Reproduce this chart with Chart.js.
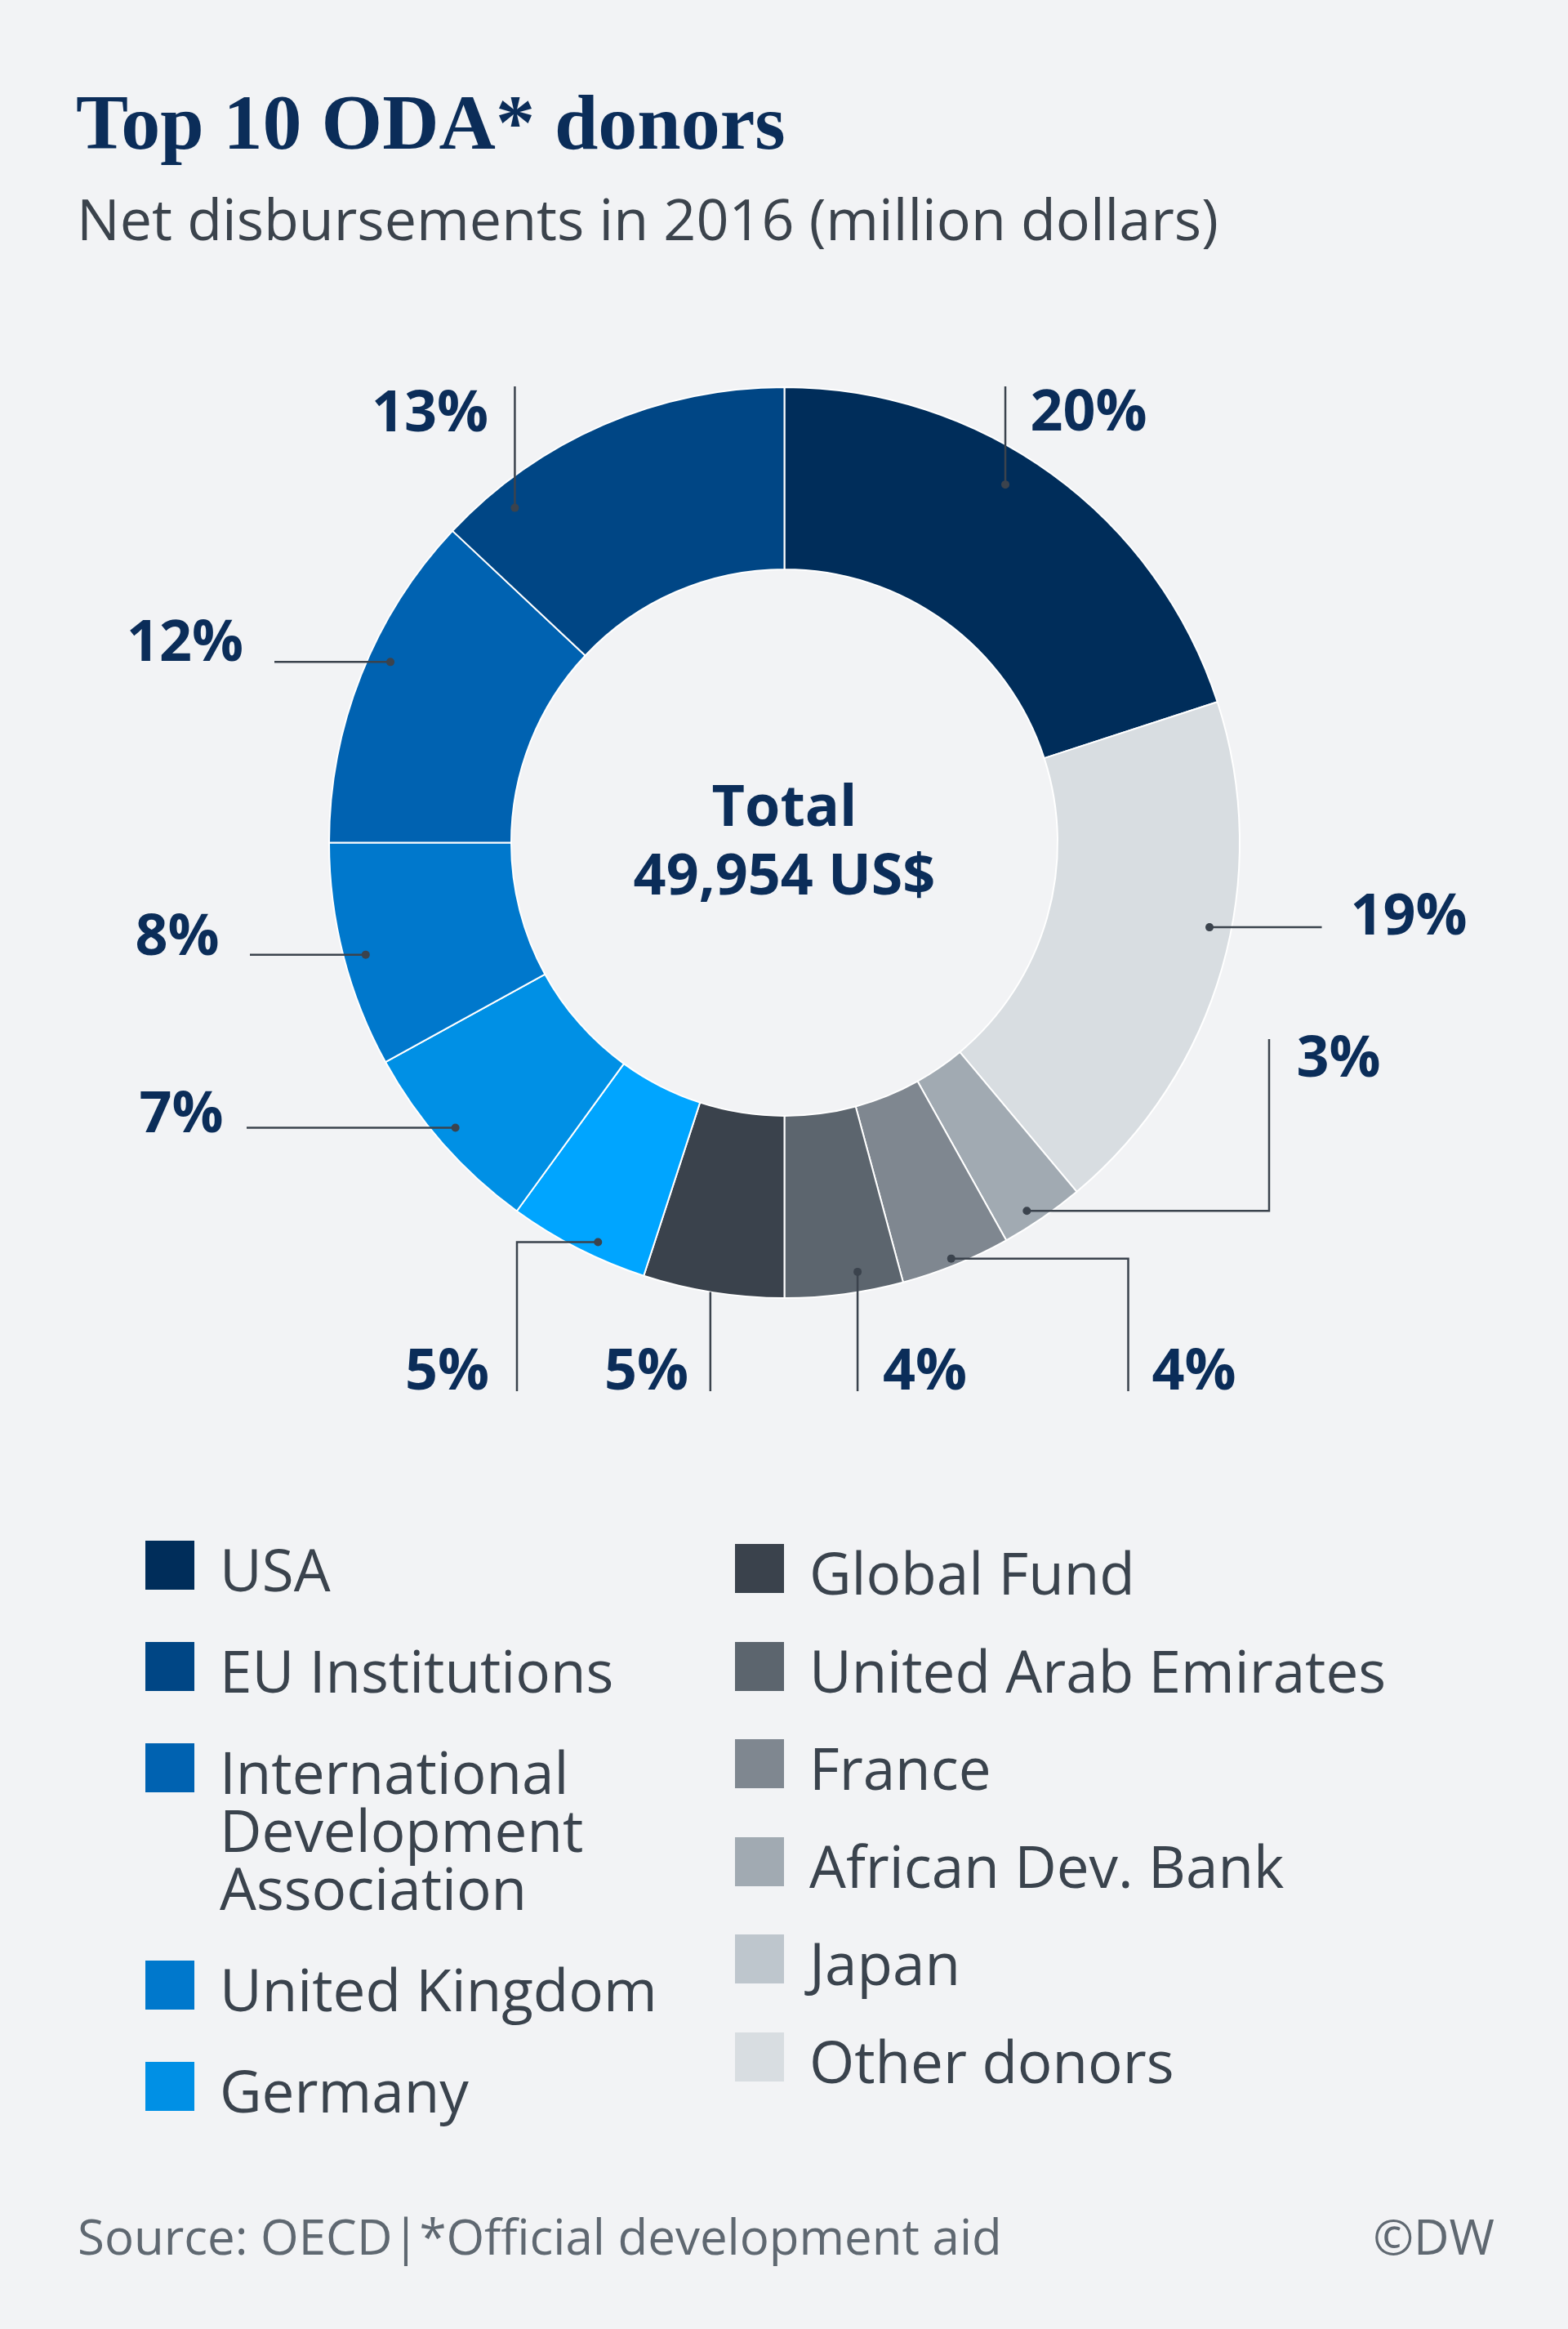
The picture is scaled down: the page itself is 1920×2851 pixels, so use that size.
<!DOCTYPE html>
<html>
<head>
<meta charset="utf-8">
<title>Top 10 ODA donors</title>
<script src="https://cdn.jsdelivr.net/npm/chart.js@4.4.1/dist/chart.umd.min.js"></script>
<style>
  html, body {
    margin: 0;
    padding: 0;
    background: #f2f3f5;
  }
  body {
    width: 1920px;
    height: 2851px;
    position: relative;
    overflow: hidden;
    font-family: "Open Sans", "Noto Sans", sans-serif;
  }
  .title {
    position: absolute;
    left: 93px;
    top: 102px;
    font-family: "Liberation Serif", serif;
    font-weight: bold;
    font-size: 96px;
    line-height: 96px;
    color: #0b2d59;
    white-space: nowrap;
  }
  .subtitle {
    position: absolute;
    left: 94px;
    top: 232px;
    font-size: 70px;
    line-height: 70px;
    color: #3b434c;
    white-space: nowrap;
  }
  #chartBox {
    position: absolute;
    left: 0;
    top: 380px;
    width: 1920px;
    height: 1400px;
  }
  .legendCol {
    position: absolute;
    display: flex;
    flex-direction: column;
  }
  .legendItem {
    display: flex;
    align-items: flex-start;
    font-size: 71px;
    line-height: 71px;
    color: #3a434d;
  }
  .swatch {
    width: 60px;
    height: 60px;
    flex: none;
    margin-top: 1px;
  }
  .legendText {
    margin-left: 31px;
    white-space: nowrap;
  }
  .footer {
    position: absolute;
    top: 2707px;
    font-size: 60px;
    line-height: 60px;
    color: #5f6871;
    white-space: nowrap;
  }
</style>
</head>
<body>
<div class="title">Top 10 ODA* donors</div>
<div class="subtitle">Net disbursements in 2016 (million dollars)</div>

<div id="chartBox"><canvas id="donut"></canvas></div>

<div class="legendCol" id="legendLeft" style="left:178px; top:1885px; gap:53px;"></div>
<div class="legendCol" id="legendRight" style="left:900px; top:1889px; gap:48.5px;"></div>

<div class="footer" style="left:95px;">Source: OECD|*Official development aid</div>
<div class="footer" style="right:90px;">©DW</div>

<script>
// slices, clockwise from 12 o'clock (share of total, %)
const sliceNames = [
  "USA", "Other donors", "African Dev. Bank", "France", "United Arab Emirates",
  "Global Fund", "Japan", "Germany", "United Kingdom",
  "International Development Association", "EU Institutions"
];
const sliceShares = [20.0, 18.9, 3.0, 3.9, 4.2, 5.0, 5.0, 7.0, 8.0, 12.0, 13.0];
const sliceColors = [
  "#002d5a", "#d8dde1", "#a1aab2", "#7f8790", "#5c656e",
  "#3a424c", "#00a5ff", "#0090e5", "#0078cc", "#0062b1", "#004685"
];

const totalMillions = 49954;

// legend, as printed under the chart
const legendLeftNames = ["USA", "EU Institutions", "International\nDevelopment\nAssociation", "United Kingdom", "Germany"];
const legendLeftColors = ["#002d5a", "#004685", "#0062b1", "#0078cc", "#0090e5"];
const legendRightNames = ["Global Fund", "United Arab Emirates", "France", "African Dev. Bank", "Japan", "Other donors"];
const legendRightColors = ["#3a424c", "#5c656e", "#7f8790", "#a1aab2", "#bec6cd", "#d8dde1"];

// where each percentage label sits (offsets from the donut centre, px)
// t = position along the slice, rf = position across the ring, route = leader waypoints
const labelLayout = [
  { t: 0.44, rf: 0.81, route: [{ y: -558.5 }], lx: 301, ly: -504.5, align: "left" },
  { t: 0.43, rf: 0.88, route: [{ x: 658 }], lx: 693, ly: 112, align: "left" },
  { t: 0.61, rf: 0.92, route: [{ x: 593.5 }, { y: 240.5 }], lx: 627, ly: 286, align: "left" },
  { t: 0.52, rf: 0.96, route: [{ x: 421 }, { y: 671.5 }], lx: 450, ly: 669.5, align: "left" },
  { t: 0.36, rf: 0.89, route: [{ y: 671.5 }], lx: 120.5, ly: 669.5, align: "left" },
  { t: 0.52, rf: 1.0, route: [{ y: 671.5 }], lx: -117.5, ly: 669.5, align: "right", noDot: true },
  { t: 0.39, rf: 0.92, route: [{ x: -327.5 }, { y: 671.5 }], lx: -361.5, ly: 669.5, align: "right" },
  { t: 0.52, rf: 0.89, route: [{ x: -658.5 }], lx: -687, ly: 354.5, align: "right" },
  { t: 0.48, rf: 0.88, route: [{ x: -654.5 }], lx: -692, ly: 137, align: "right" },
  { t: 0.57, rf: 0.88, route: [{ x: -624.5 }], lx: -662.5, ly: -222.5, align: "right" },
  { t: 0.17, rf: 0.86, route: [{ y: -558.5 }], lx: -362.5, ly: -503.5, align: "right" }
];

const NAVY = "#0b2d59";
const LEADER = "#3b434d";

function buildLegend(el, names, colors) {
  names.forEach((name, i) => {
    const item = document.createElement("div");
    item.className = "legendItem";
    const sw = document.createElement("div");
    sw.className = "swatch";
    sw.style.background = colors[i];
    const txt = document.createElement("div");
    txt.className = "legendText";
    name.split("\n").forEach((line, j) => {
      if (j > 0) txt.appendChild(document.createElement("br"));
      txt.appendChild(document.createTextNode(line));
    });
    item.appendChild(sw);
    item.appendChild(txt);
    el.appendChild(item);
  });
}
buildLegend(document.getElementById("legendLeft"), legendLeftNames, legendLeftColors);
buildLegend(document.getElementById("legendRight"), legendRightNames, legendRightColors);

const donutLabels = {
  id: "donutLabels",
  afterDatasetsDraw(chart) {
    const ctx = chart.ctx;
    const meta = chart.getDatasetMeta(0);
    ctx.save();
    meta.data.forEach((arc, i) => {
      const p = arc.getProps(["x", "y", "startAngle", "endAngle", "innerRadius", "outerRadius"], true);
      const lay = labelLayout[i];
      const a = p.startAngle + lay.t * (p.endAngle - p.startAngle);
      const r = p.innerRadius + lay.rf * (p.outerRadius - p.innerRadius);
      const dotX = p.x + r * Math.cos(a);
      const dotY = p.y + r * Math.sin(a);

      // leader line
      let px = dotX, py = dotY;
      ctx.strokeStyle = LEADER;
      ctx.lineWidth = 2.5;
      ctx.beginPath();
      ctx.moveTo(px, py);
      lay.route.forEach(w => {
        if (w.x !== undefined) px = p.x + w.x;
        if (w.y !== undefined) py = p.y + w.y;
        ctx.lineTo(px, py);
      });
      ctx.stroke();

      if (!lay.noDot) {
        ctx.fillStyle = LEADER;
        ctx.beginPath();
        ctx.arc(dotX, dotY, 5, 0, Math.PI * 2);
        ctx.fill();
      }

      ctx.fillStyle = NAVY;
      ctx.font = 'bold 70px "Open Sans", "Noto Sans", sans-serif';
      ctx.textAlign = lay.align;
      ctx.textBaseline = "alphabetic";
      ctx.fillText(Math.round(sliceShares[i]) + "%", p.x + lay.lx, p.y + lay.ly);
    });

    // total in the hole
    const c = meta.data[0];
    ctx.fillStyle = NAVY;
    ctx.textAlign = "center";
    ctx.font = 'bold 70px "Open Sans", "Noto Sans", sans-serif';
    ctx.fillText("Total", c.x, c.y - 20.5);
    ctx.fillText(totalMillions.toLocaleString("en-US") + " US$", c.x, c.y + 63.5);
    ctx.restore();
  }
};

new Chart(document.getElementById("donut").getContext("2d"), {
  type: "doughnut",
  data: {
    labels: sliceNames,
    datasets: [{
      data: sliceShares,
      backgroundColor: sliceColors,
      borderColor: "#ffffff",
      borderWidth: 2,
      hoverOffset: 0
    }]
  },
  options: {
    responsive: true,
    maintainAspectRatio: false,
    animation: false,
    cutout: "60%",
    layout: { padding: { left: 402, right: 401, top: 93, bottom: 190 } },
    plugins: {
      legend: { display: false },
      tooltip: { enabled: false }
    }
  },
  plugins: [donutLabels]
});
</script>
</body>
</html>
